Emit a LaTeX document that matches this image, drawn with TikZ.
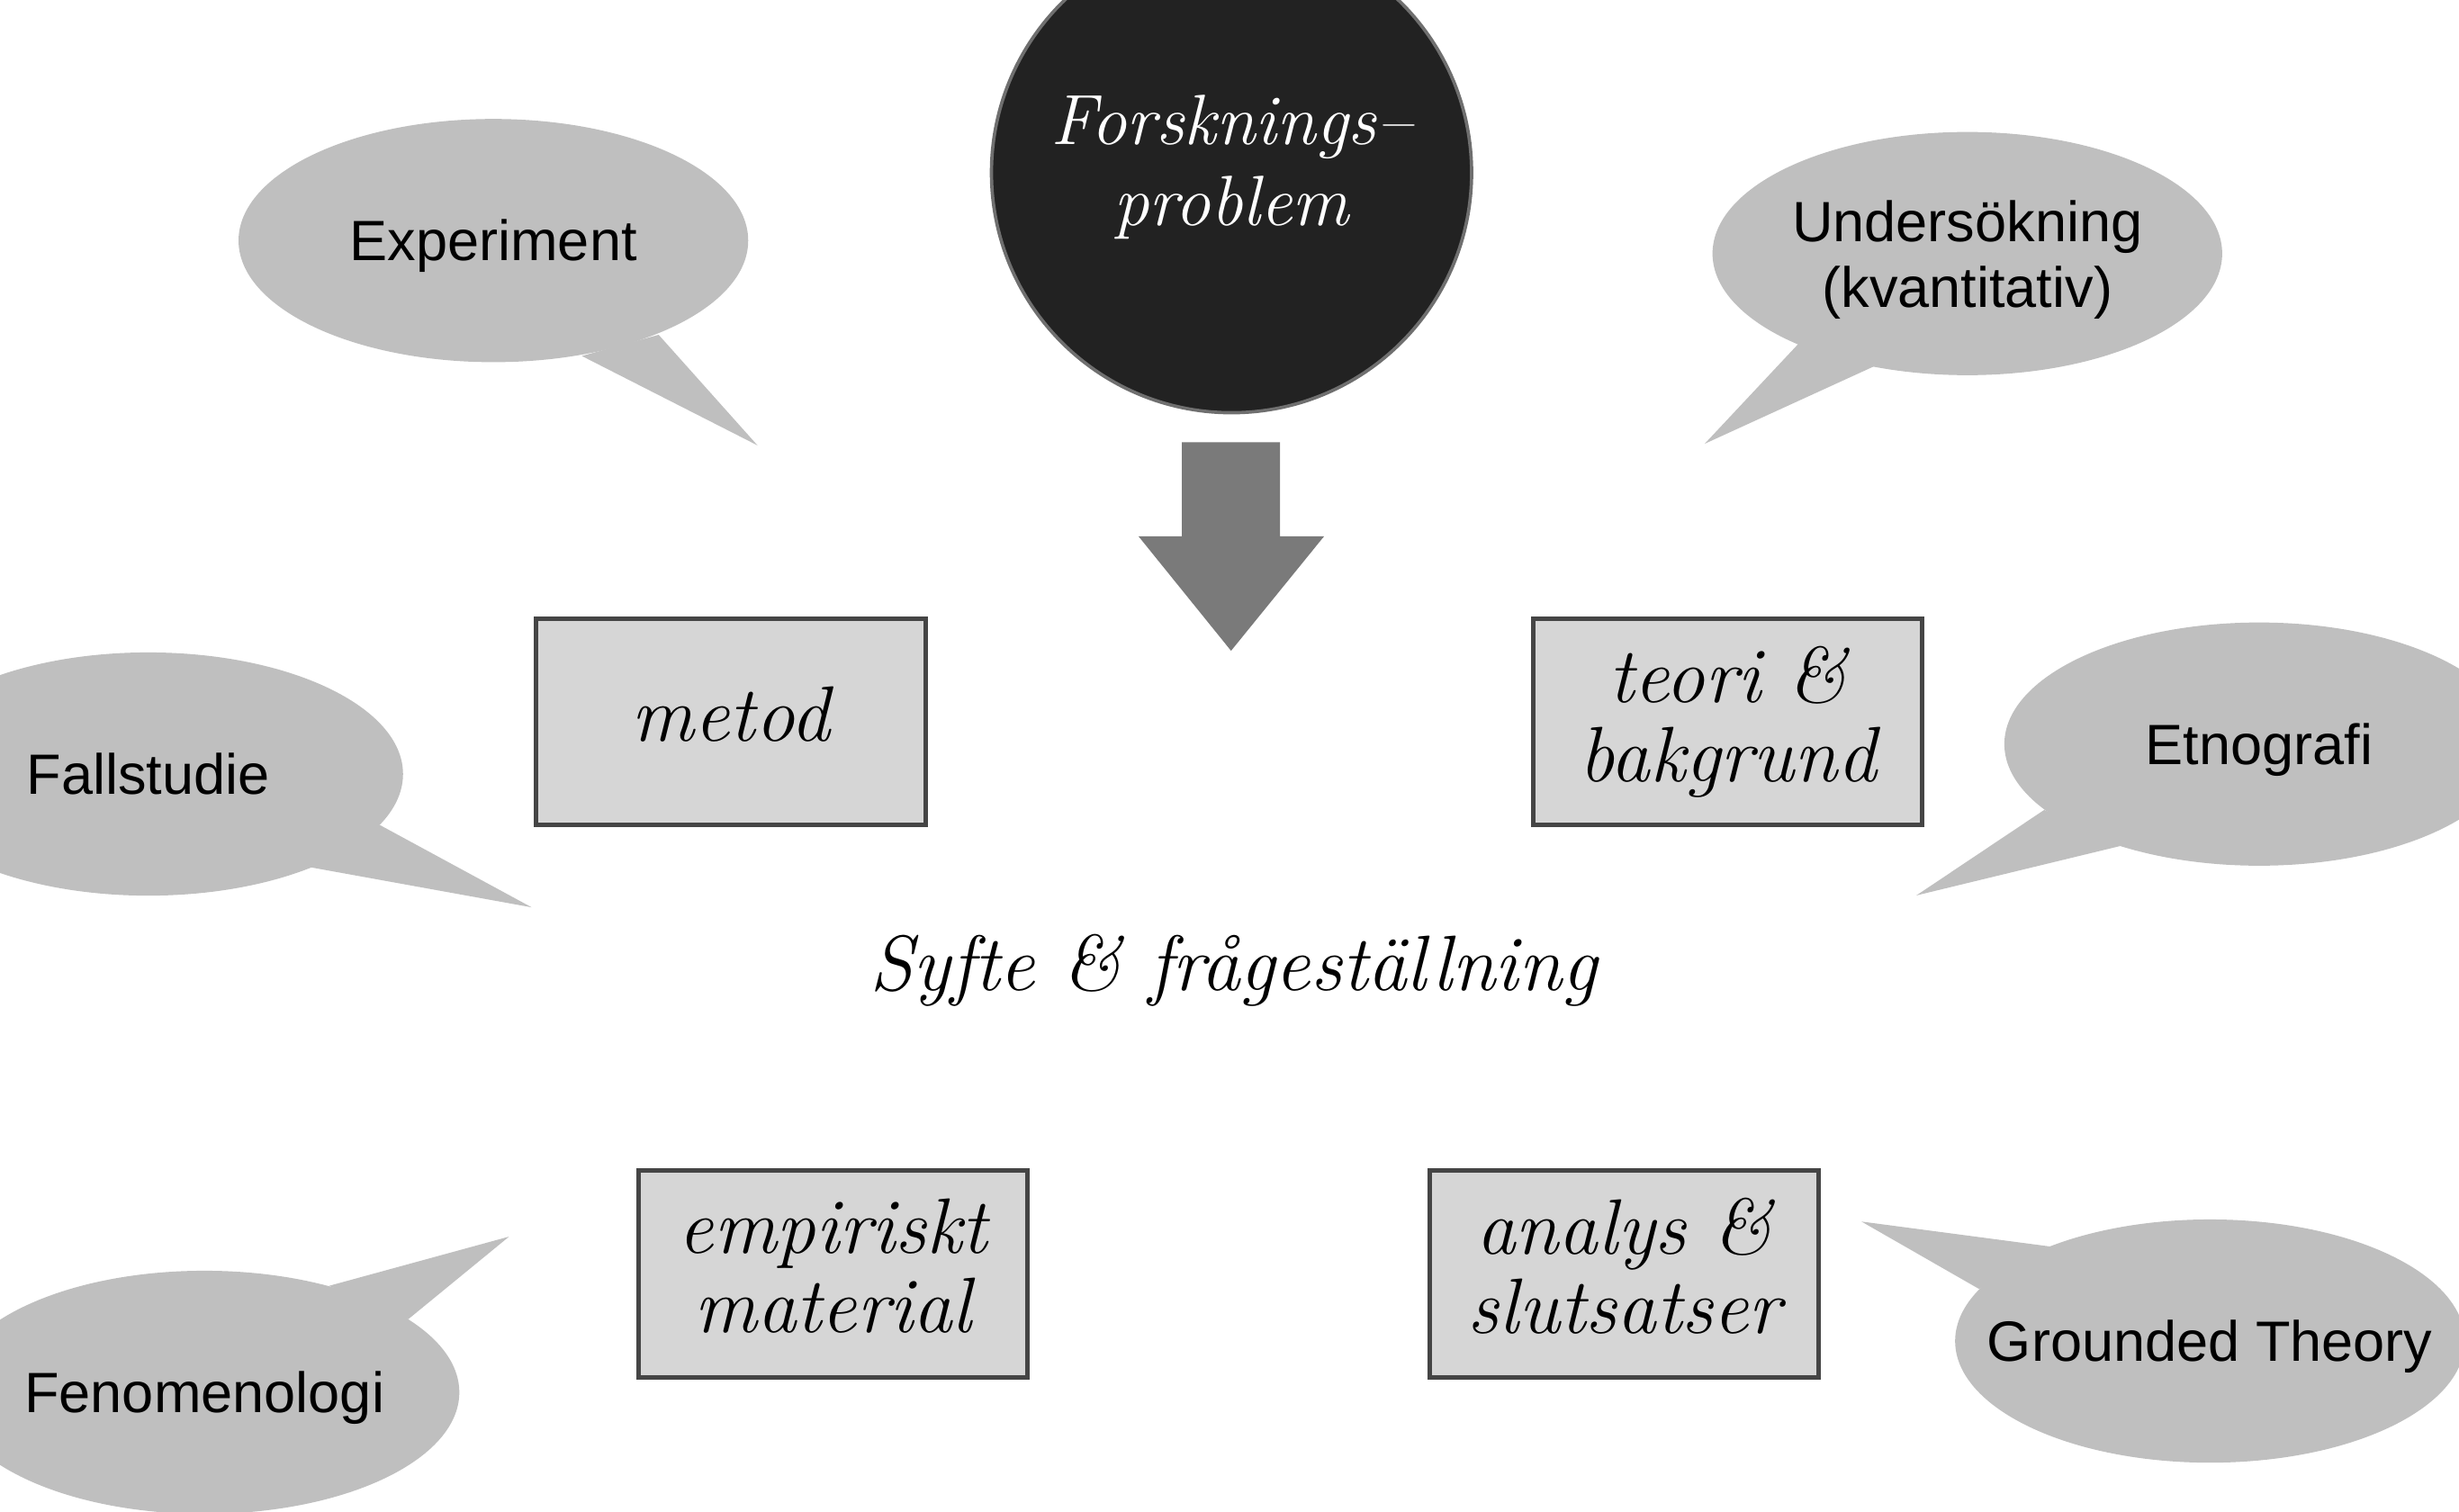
\documentclass[tikz,border=0pt]{standalone}
\usepackage{fontspec}
\setsansfont{Liberation Sans}
\usetikzlibrary{shapes.geometric}
\definecolor{circfill}{HTML}{222222}
\definecolor{circedge}{HTML}{6F6F6F}
\definecolor{arrowfill}{HTML}{7A7A7A}
\definecolor{boxfill}{HTML}{D6D6D6}
\definecolor{boxedge}{HTML}{454545}
\definecolor{bubblefill}{HTML}{BFBFBF}
\begin{document}
\begin{tikzpicture}[x=0.01cm,y=-0.01cm,
  bubble/.style={ellipse, fill=bubblefill, inner sep=-0.6cm,
    minimum width=3.248cm, minimum height=1.55cm, align=center,
    font=\sffamily\fontsize{10.3}{11.98}\selectfont},
  oneline/.style={text height=7.37pt, text depth=0pt},
  tailshape/.style={fill=bubblefill},
  boxnode/.style={rectangle, draw=boxedge, fill=boxfill, line width=0.82pt,
    minimum width=2.48cm, minimum height=1.316cm, inner sep=0pt, align=center,
    font=\itshape\fontsize{14.23}{14.4}\selectfont},
  probnode/.style={circle, fill=circfill, draw=circedge, line width=0.6pt,
    minimum size=3.06cm, inner sep=0pt, text=white, align=center,
    font=\itshape\fontsize{12.9}{14.68}\selectfont},
  blockarrow/.style={fill=arrowfill}]
\useasboundingbox (0,0) rectangle (1568,964.2);
\clip (0,0) rectangle (1568,964.2);

% speech bubble tails
\fill[tailshape] (371,227) -- (483,284) -- (420,213.5) -- cycle;
\fill[tailshape] (1147,219) -- (1087,283) -- (1195,233.6) -- cycle;
\fill[tailshape] (242,526) -- (339,578.6) -- (197.6,553) -- cycle;
\fill[tailshape] (1303.5,516.5) -- (1222,571) -- (1352,539.5) -- cycle;
\fill[tailshape] (209.8,820) -- (324.6,788.6) -- (260.3,841.3) -- cycle;
\fill[tailshape] (1308,795) -- (1187,779) -- (1262,822) -- cycle;

% speech bubbles
\node[bubble, oneline] (exp) at (314.6,153.4) {Experiment};
\node[bubble] (und) at (1254.5,161.7) {\rule{0pt}{0.34cm}Undersökning\\(kvantitativ)};
\node[bubble, oneline] (fall) at (94.5,493.6) {Fallstudie};
\node[bubble, oneline] (etno) at (1440.6,474.5) {Etnografi};
\node[bubble, oneline] (feno) at (130.4,887.9) {Fenomenologi};
\node[bubble, oneline] (grund) at (1409.2,855.2) {Grounded Theory};

% research problem
\node[probnode] (prob) at (785.3,110.1) {Forsknings–\\problem\rule[-0.154cm]{0pt}{0pt}};

% block arrow
\fill[blockarrow] (753.7,282) -- (816.2,282) -- (816.2,342) -- (844.3,342)
  -- (785,415) -- (726,342) -- (753.7,342) -- cycle;

% boxes
\node[boxnode] (metod) at (466,460.4) {metod\vphantom{g}};
\node[boxnode] (teori) at (1101.8,460.4) {teori \&\\bakgrund};
\node[boxnode] (emp) at (531.2,812.4) {empiriskt\\material\vphantom{g}};
\node[boxnode] (analys) at (1035.8,812.4) {analys \&\\slutsatser\vphantom{g}};

% central text
\node[anchor=base, inner sep=0pt, font=\itshape\fontsize{14.23}{14.4}\selectfont] (syfte) at (786.6,631.4) {Syfte \& frågeställning};
\end{tikzpicture}
\end{document}
